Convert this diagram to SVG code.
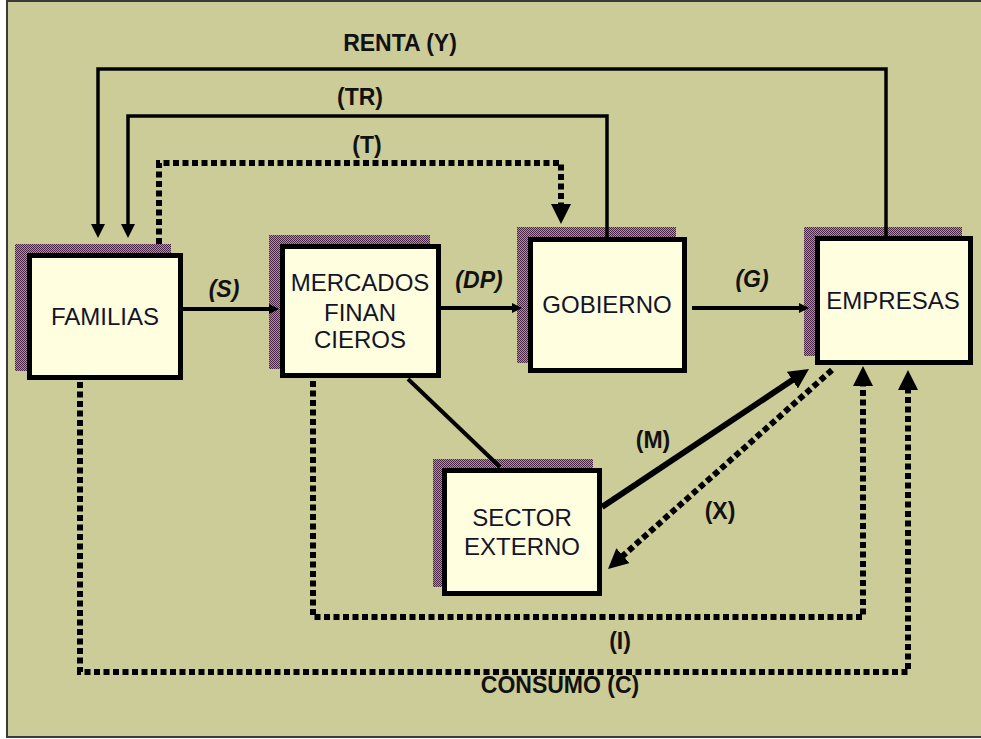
<svg xmlns="http://www.w3.org/2000/svg" width="981" height="739" viewBox="0 0 981 739">
<defs>
<pattern id="dither" width="2" height="2" patternUnits="userSpaceOnUse">
<rect width="2" height="2" fill="#a49a94"/>
<rect width="1" height="1" fill="#4a2444"/>
<rect x="1" y="1" width="1" height="1" fill="#4a2444"/>
</pattern>
<marker id="aS" markerUnits="userSpaceOnUse" markerWidth="12" markerHeight="12" refX="2" refY="5" orient="auto">
<path d="M0,0 L10,5 L0,10 Z" fill="#000"/>
</marker>
<marker id="aM" markerUnits="userSpaceOnUse" markerWidth="16" markerHeight="16" refX="2" refY="7" orient="auto">
<path d="M0,0 L14,7 L0,14 Z" fill="#000"/>
</marker>
<marker id="aL" markerUnits="userSpaceOnUse" markerWidth="22" markerHeight="22" refX="2" refY="10" orient="auto">
<path d="M0,0 L20,10 L0,20 Z" fill="#000"/>
</marker>
</defs>
<style>
.bg{fill:#cccc99;stroke:#3a3a3a;stroke-width:2}
.sh{fill:url(#dither)}
.box{fill:#ffffe0;stroke:#000;stroke-width:5}
.nt{font-family:"Liberation Sans",Arial,sans-serif;font-size:24px;fill:#141428;text-anchor:middle}
.lb{font-family:"Liberation Sans",Arial,sans-serif;font-size:23px;font-weight:bold;fill:#111;text-anchor:middle}
.it{font-style:italic}
.sol{fill:none;stroke:#000;stroke-width:3.5}
.thk{fill:none;stroke:#000;stroke-width:4}
.dot{fill:none;stroke:#000;stroke-width:6;stroke-dasharray:6 3.5}
</style>
<rect x="0" y="0" width="981" height="739" fill="#fff"/>
<rect class="bg" x="7" y="1" width="990" height="736"/>

<g id="familias">
<rect class="sh" x="15" y="244" width="156" height="127"/>
<rect class="box" x="29.5" y="255.5" width="151" height="122"/>
<text class="nt" x="105" y="325">FAMILIAS</text>
</g>
<g id="mercados">
<rect class="sh" x="269" y="235" width="161" height="134"/>
<rect class="box" x="282.5" y="246.5" width="156" height="129"/>
<text class="nt" x="360" y="291">MERCADOS</text>
<text class="nt" x="360" y="321">FINAN</text>
<text class="nt" x="360" y="348">CIEROS</text>
</g>
<g id="gobierno">
<rect class="sh" x="517" y="227" width="159" height="136"/>
<rect class="box" x="530.5" y="239.5" width="154" height="131"/>
<text class="nt" x="607" y="313">GOBIERNO</text>
</g>
<g id="empresas">
<rect class="sh" x="804" y="227" width="158" height="129"/>
<rect class="box" x="817.5" y="238.5" width="153" height="124"/>
<text class="nt" x="893" y="309">EMPRESAS</text>
</g>
<g id="sector">
<rect class="sh" x="433" y="459" width="160" height="128"/>
<rect class="box" x="444.5" y="470.5" width="155" height="123"/>
<text class="nt" x="522" y="526">SECTOR</text>
<text class="nt" x="522" y="555">EXTERNO</text>
</g>

<g id="connectors">
<path class="sol" d="M886,237 V69 H98 V226" marker-end="url(#aM)"/>
<path class="sol" d="M607,238 V116 H128 V226" marker-end="url(#aM)"/>
<path class="dot" d="M159,244 V163 H561 V206" marker-end="url(#aL)"/>
<path class="thk" d="M183,309 H271" marker-end="url(#aS)"/>
<path class="thk" d="M441,308 H514" marker-end="url(#aS)"/>
<path class="thk" d="M692,308 H801" marker-end="url(#aS)"/>
<path class="thk" d="M408,379 L500,467"/>
<path fill="none" stroke="#000" stroke-width="6" d="M602,507 L794,379" marker-end="url(#aL)"/>
<path class="dot" d="M832,370 L621.5,557" marker-end="url(#aL)"/>
<path class="dot" d="M313,381 V617 H863 V384" marker-end="url(#aL)"/>
<path class="dot" d="M80,382 V672 H908 V388" marker-end="url(#aL)"/>
</g>

<g id="labels">
<text class="lb" x="400" y="51">RENTA (Y)</text>
<text class="lb" x="360" y="105">(TR)</text>
<text class="lb" x="367" y="153">(T)</text>
<text class="lb it" x="224" y="297">(S)</text>
<text class="lb it" x="479" y="288">(DP)</text>
<text class="lb it" x="752" y="287">(G)</text>
<text class="lb" x="653" y="448">(M)</text>
<text class="lb" x="720" y="519">(X)</text>
<text class="lb" x="620" y="649">(I)</text>
<text class="lb" x="560" y="693">CONSUMO (C)</text>
</g>
</svg>
